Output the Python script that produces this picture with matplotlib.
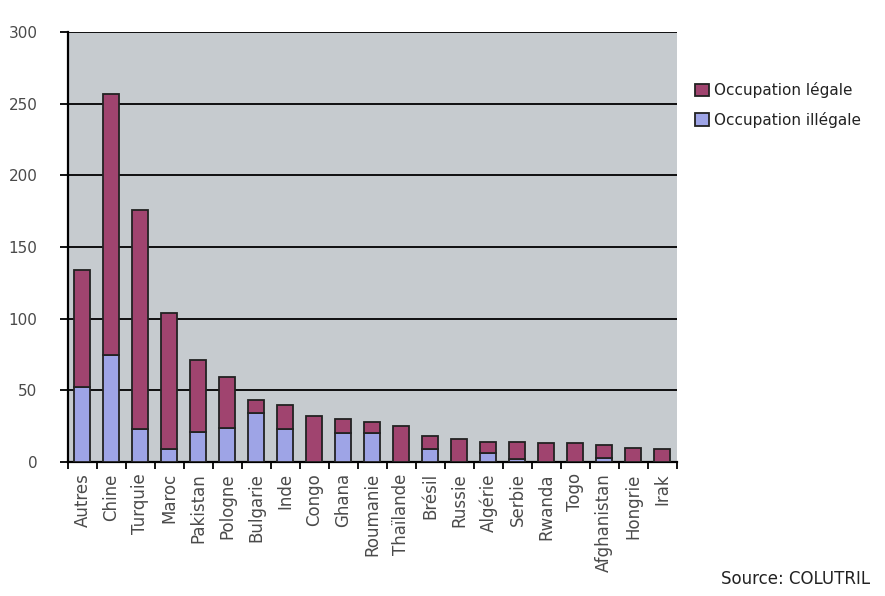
import matplotlib
matplotlib.use("Agg")
import matplotlib.pyplot as plt
import numpy as np

pays = ["Autres", "Chine", "Turquie", "Maroc", "Pakistan", "Pologne", "Bulgarie",
        "Inde", "Congo", "Ghana", "Roumanie", "Thaïlande", "Brésil", "Russie",
        "Algérie", "Serbie", "Rwanda", "Togo", "Afghanistan", "Hongrie", "Irak"]
illegale = [52, 75, 23, 9, 21, 24, 34, 23, 0, 20, 20, 0, 9, 0, 6, 2, 0, 0, 3, 0, 0]
totale = [134, 257, 176, 104, 71, 59, 43, 40, 32, 30, 28, 25, 18, 16, 14, 14, 13, 13, 12, 9.5, 9]
legale = [t - i for t, i in zip(totale, illegale)]

col_legale = "#A0446F"
col_illegale = "#9EA4E6"
txt = "#4A4A4A"

fig = plt.figure(figsize=(8.85, 5.96), dpi=100)
ax = fig.add_axes([0.0768, 0.2248, 0.688, 0.7215])
ax.set_facecolor("#C6CBCF")

x = np.arange(len(pays))
w = 0.55
ax.bar(x, illegale, w, color=col_illegale, edgecolor="#222222", linewidth=1.3,
       label="Occupation illégale", zorder=3)
ax.bar(x, legale, w, bottom=illegale, color=col_legale, edgecolor="#222222",
       linewidth=1.3, label="Occupation légale", zorder=3)

ax.set_xlim(-0.5, len(pays) - 0.5)
ax.set_ylim(0, 300)
ax.set_yticks(range(0, 301, 50))
ax.yaxis.grid(True, color="black", linewidth=1.3, zorder=1)
ax.set_axisbelow(True)
ax.tick_params(axis="y", length=6, width=1.3, direction="out", labelsize=11,
               labelcolor=txt, pad=16)

ax.set_xticks(x)
ax.set_xticklabels(pays, rotation=90, fontsize=12, color=txt)
ax.tick_params(axis="x", length=0, pad=8)
ax.set_xticks(np.arange(-0.5, len(pays), 1), minor=True)
ax.tick_params(axis="x", which="minor", length=5, width=1.3, direction="out")

for s in ["top", "right"]:
    ax.spines[s].set_visible(False)
for s in ["left", "bottom"]:
    ax.spines[s].set_linewidth(1.6)

h, l = ax.get_legend_handles_labels()
fig.legend(h[::-1], l[::-1], loc="upper left", bbox_to_anchor=(0.77, 0.885),
           frameon=False, fontsize=11, handlelength=0.9, handleheight=0.9,
           handletextpad=0.3, labelspacing=0.9, labelcolor="#222222")

fig.text(0.815, 0.02, "Source: COLUTRIL", fontsize=12, color="#222222")

fig.savefig("out.png", dpi=100)
